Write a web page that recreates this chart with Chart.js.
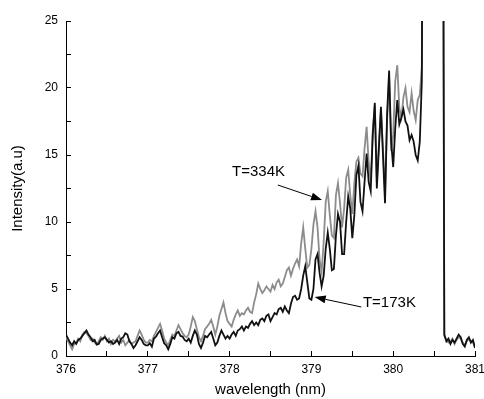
<!DOCTYPE html>
<html>
<head>
<meta charset="utf-8">
<script src="https://cdn.jsdelivr.net/npm/chart.js@4.4.1/dist/chart.umd.min.js"></script>
<style>
  html, body { margin: 0; padding: 0; background: #fff; }
  #wrap { width: 484px; height: 399px; }
</style>
</head>
<body>
<div id="wrap"><canvas id="spectrum"></canvas></div>
<script>
// Sampling grid of the spectra (nm)
const lambdaStart = 376;
const lambdaStep = 0.025;

// T=173K (black)
const black173 = [
  1.6, 1.3, 1.0, 0.8, 1.1, 0.9, 1.2, 1.3, 1.5, 1.7, 1.9, 1.6, 1.4, 1.1, 1.2, 0.85, 0.9, 1.2, 1.3, 1.4,
  1.2, 1.0, 1.1, 0.9, 1.0, 1.2, 0.9, 1.3, 1.4, 1.7, 1.6, 1.1, 0.9, 0.6, 0.8, 1.1, 1.4, 1.2, 0.9, 0.8,
  0.8, 0.95, 0.7, 1.3, 1.45, 1.7, 1.9, 1.4, 0.95, 0.8, 0.5, 0.9, 1.4, 1.3, 1.7, 1.8, 1.5, 1.45, 1.2, 1.1,
  1.3, 1.0, 1.5, 1.9, 1.6, 0.9, 0.6, 1.0, 1.5, 1.4, 1.6, 1.8, 1.3, 0.8, 1.0, 1.5, 1.9, 1.6, 1.3, 1.5,
  1.3, 1.6, 1.8, 1.5, 1.9, 2.0, 2.2, 1.9, 2.2, 2.1, 2.4, 2.6, 2.3, 2.5, 2.3, 2.7, 2.8, 2.6, 3.0, 3.1,
  2.6, 2.9, 3.2, 3.1, 3.5, 3.6, 3.3, 3.7, 3.4, 3.2, 3.9, 4.4, 4.5, 4.2, 4.3, 5.0, 6.0, 6.7, 5.5, 4.3,
  4.2, 5.0, 7.2, 7.6, 6.2, 5.2, 6.0, 8.0, 9.2, 8.0, 6.4, 6.5, 9.0, 10.6, 10.0, 7.6, 7.6, 10.0, 11.9, 11.0,
  8.8, 10.5, 13.5, 14.2, 11.5, 10.8, 13.0, 15.1, 13.0, 12.3, 16.5, 18.9, 12.5, 15.5, 18.6, 15.0, 11.4, 18.0, 21.3, 16.0,
  14.1, 17.0, 19.1, 17.3, 17.8, 18.4, 17.5, 17.2, 16.1, 16.5, 16.0, 15.0, 14.6, 16.0, 20.5,
  60, 60, 60, 60, 60, 60, 60, 60, 60, 60,
  1.6, 1.1, 1.3, 0.9, 1.2, 1.0, 1.3, 1.6, 1.4, 0.9, 0.7, 1.2, 1.4, 1.0, 1.2, 0.6
];

// T=334K (grey)
const grey334 = [
  1.4, 1.1, 0.8, 0.5, 0.9, 1.0, 1.3, 1.1, 1.6, 1.8, 1.7, 1.5, 1.2, 1.3, 1.0, 0.9, 1.1, 1.4, 1.2, 1.5,
  1.1, 1.3, 0.9, 1.2, 1.1, 1.3, 1.5, 1.0, 1.2, 0.8, 1.0, 1.2, 0.9, 1.0, 1.1, 1.5, 1.9, 1.6, 1.2, 1.0,
  1.0, 1.2, 1.1, 1.5, 1.8, 2.1, 2.4, 1.9, 1.3, 1.0, 0.8, 1.2, 1.6, 1.5, 1.9, 2.3, 2.0, 1.7, 1.5, 1.4,
  1.6, 2.2, 2.9, 2.6, 2.0, 1.4, 1.1, 1.5, 2.0, 2.2, 2.4, 2.7, 2.2, 1.6, 2.2, 3.0, 3.5, 4.0, 3.2, 2.6,
  2.4, 2.2, 2.7, 3.1, 3.4, 3.0, 3.2, 3.1, 3.4, 3.6, 3.3, 3.2, 4.0, 4.6, 5.4, 5.0, 4.7, 4.9, 5.2, 5.0,
  4.8, 5.3, 5.0, 5.5, 5.7, 5.2, 5.4, 5.9, 6.4, 6.6, 6.0, 6.5, 6.9, 7.2, 6.7, 8.4, 9.6, 8.0, 6.6, 6.8,
  8.0, 9.8, 10.8, 9.6, 7.2, 6.3, 8.5, 11.5, 12.3, 10.5, 9.0, 8.8, 12.0, 12.9, 11.4, 9.6, 11.0, 13.3, 13.9, 12.0,
  10.6, 12.9, 14.5, 14.8, 13.6, 13.4, 15.5, 17.1, 14.5, 13.0, 16.8, 18.7, 13.0, 15.8, 18.4, 15.5, 12.0, 17.5, 20.8, 15.3,
  16.5, 20.5, 21.7, 18.5, 17.8, 19.3, 20.0, 18.6, 18.2, 19.6, 18.3, 17.6, 19.1, 19.5, 21.6,
  60, 60, 60, 60, 60, 60, 60, 60, 60, 60,
  1.5, 1.2, 1.0, 1.1, 1.3, 0.9, 1.2, 1.4, 1.3, 1.0, 0.8, 1.1, 1.3, 1.1, 1.0, 0.7
];

// Labels with arrows: text anchor and arrow in data units
const notes = [
  { text: 'T=334K', at: [378.03, 13.73], from: [378.59, 12.76], to: [379.13, 11.64] },
  { text: 'T=173K', at: [379.63, 3.96], from: [379.61, 3.66], to: [379.04, 4.40] }
];

const fontFamily = '"Liberation Sans", Arial, sans-serif';

function toPoints(values) {
  return values.map((v, i) => ({ x: lambdaStart + i * lambdaStep, y: v }));
}

const notesPlugin = {
  id: 'notes',
  afterDatasetsDraw(chart) {
    const c = chart.ctx;
    const xs = chart.scales.x, ys = chart.scales.y;
    c.save();
    c.fillStyle = '#000';
    c.strokeStyle = '#000';
    c.font = '15px ' + fontFamily;
    c.textBaseline = 'middle';
    c.textAlign = 'left';
    notes.forEach(n => {
      c.fillText(n.text, xs.getPixelForValue(n.at[0]), ys.getPixelForValue(n.at[1]));
      const x1 = xs.getPixelForValue(n.from[0]), y1 = ys.getPixelForValue(n.from[1]);
      const x2 = xs.getPixelForValue(n.to[0]), y2 = ys.getPixelForValue(n.to[1]);
      const ang = Math.atan2(y2 - y1, x2 - x1);
      const len = 11, half = 4;
      c.lineWidth = 1;
      c.beginPath();
      c.moveTo(x1, y1);
      c.lineTo(x2 - len * Math.cos(ang), y2 - len * Math.sin(ang));
      c.stroke();
      c.beginPath();
      c.moveTo(x2, y2);
      c.lineTo(x2 - len * Math.cos(ang) + half * Math.sin(ang), y2 - len * Math.sin(ang) - half * Math.cos(ang));
      c.lineTo(x2 - len * Math.cos(ang) - half * Math.sin(ang), y2 - len * Math.sin(ang) + half * Math.cos(ang));
      c.closePath();
      c.fill();
    });
    c.restore();
  }
};

const ctx = document.getElementById('spectrum').getContext('2d');
const spectrumChart = new Chart(ctx, {
  type: 'line',
  data: {
    datasets: [
      {
        label: 'T=173K',
        data: toPoints(black173),
        borderColor: '#111111',
        borderWidth: 1.8,
        pointRadius: 0,
        tension: 0,
        fill: false
      },
      {
        label: 'T=334K',
        data: toPoints(grey334),
        borderColor: '#8c8c8c',
        borderWidth: 1.8,
        pointRadius: 0,
        tension: 0,
        fill: false
      }
    ]
  },
  options: {
    responsive: true,
    maintainAspectRatio: false,
    animation: false,
    layout: { padding: { top: 21, right: 9, left: 0, bottom: 0 } },
    plugins: {
      legend: { display: false },
      tooltip: { enabled: false }
    },
    scales: {
      x: {
        type: 'linear',
        min: 376,
        max: 381,
        border: { color: '#000', width: 1 },
        grid: { drawOnChartArea: false, tickLength: -5, color: '#000' },
        ticks: {
          stepSize: 0.5,
          padding: 11,
          maxRotation: 0,
          autoSkip: false,
          color: '#000',
          font: { family: fontFamily, size: 12 },
          callback: v => Math.abs(v - Math.round(v)) < 1e-6 ? String(Math.round(v)) : ''
        },
        title: {
          display: true,
          text: 'wavelength (nm)',
          color: '#000',
          font: { family: fontFamily, size: 15 },
          padding: { top: 0, bottom: 0 }
        },
        afterFit(scale) {
          scale.height = 43;
          scale.paddingRight = 0;
          scale.paddingLeft = 0;
        }
      },
      y: {
        min: 0,
        max: 25,
        border: { color: '#000', width: 1 },
        grid: { drawOnChartArea: false, tickLength: -5, color: '#000' },
        ticks: {
          stepSize: 2.5,
          padding: 13,
          autoSkip: false,
          color: '#000',
          font: { family: fontFamily, size: 12 },
          callback: v => Math.abs(v % 5) < 1e-6 ? String(v) : ''
        },
        title: {
          display: true,
          text: 'Intensity(a.u)',
          color: '#000',
          font: { family: fontFamily, size: 15 },
          padding: { top: 9, bottom: 0 }
        },
        afterFit(scale) {
          scale.width = 66;
        }
      }
    }
  },
  plugins: [notesPlugin]
});
</script>
</body>
</html>
